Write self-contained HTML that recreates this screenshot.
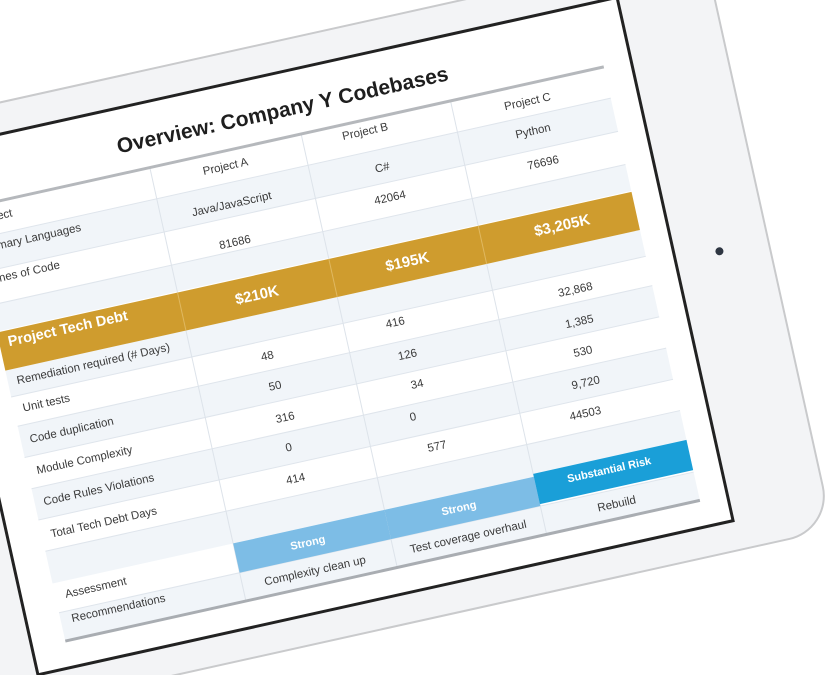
<!DOCTYPE html>
<html><head><meta charset="utf-8"><style>
html,body{margin:0;padding:0;background:#fff;width:826px;height:675px;overflow:hidden}
svg{display:block}
text{font-family:"Liberation Sans",sans-serif}
.v{font-size:11.5px;fill:#3a3a3a;text-anchor:middle;dominant-baseline:central}
.l{font-size:11.5px;fill:#3a3a3a;dominant-baseline:central}
.g{font-size:15px;font-weight:bold;fill:#fff;text-anchor:middle;dominant-baseline:central}
.b{font-size:11px;font-weight:bold;fill:#fff;text-anchor:middle;dominant-baseline:central}
</style></head><body>
<svg width="826" height="675" viewBox="0 0 826 675">
<g transform="rotate(-12.5)">
  <rect x="-260" y="100" width="958" height="597" rx="44" fill="#f3f4f6" stroke="#c9cacc" stroke-width="2"/>
  <circle cx="648" cy="401" r="4" fill="#2e3642"/>
  <rect x="-109" y="131" width="712" height="536" fill="#fff" stroke="#222" stroke-width="3"/>
  <g fill="#f1f5f9">
    <rect x="-75" y="228" width="650" height="34"/>
    <rect x="-75" y="296" width="650" height="27"/>
    <rect x="-75" y="363" width="650" height="27"/>
    <rect x="-75" y="420" width="650" height="32"/>
    <rect x="-75" y="484" width="650" height="32"/>
    <rect x="-75" y="548" width="650" height="33"/>
    <rect x="-75" y="611" width="650" height="29"/>
  </g>
  <g stroke="#dfe5ec" stroke-width="1">
    <line x1="-75" y1="228" x2="575" y2="228"/><line x1="-75" y1="262" x2="575" y2="262"/>
    <line x1="-75" y1="296" x2="575" y2="296"/><line x1="-75" y1="390" x2="575" y2="390"/>
    <line x1="-75" y1="420" x2="575" y2="420"/><line x1="-75" y1="452" x2="575" y2="452"/>
    <line x1="-75" y1="484" x2="575" y2="484"/><line x1="-75" y1="516" x2="575" y2="516"/>
    <line x1="-75" y1="548" x2="575" y2="548"/><line x1="-75" y1="611" x2="575" y2="611"/>
  </g>
  <g stroke="#dde3ea" stroke-width="1">
    <line x1="110" y1="196" x2="110" y2="640"/><line x1="265" y1="196" x2="265" y2="640"/><line x1="418" y1="196" x2="418" y2="640"/>
  </g>
  <line x1="-75" y1="196" x2="575" y2="196" stroke="#b5b8bc" stroke-width="3"/>
  <line x1="-75" y1="640" x2="575" y2="640" stroke="#a9adb2" stroke-width="3"/>
  <text x="252" y="169" font-size="21" font-weight="bold" fill="#1e1e1e" text-anchor="middle" dominant-baseline="central">Overview: Company Y Codebases</text>

  <rect x="-75" y="324" width="650" height="39" fill="#cf9c2e"/>
  <line x1="110" y1="324" x2="110" y2="363" stroke="#e0b860"/>
  <line x1="265" y1="324" x2="265" y2="363" stroke="#e0b860"/>
  <line x1="418" y1="324" x2="418" y2="363" stroke="#e0b860"/>

  <rect x="110" y="581" width="155" height="30" fill="#7dbde6"/>
  <rect x="265" y="581" width="153" height="30" fill="#7dbde6"/>
  <rect x="418" y="578" width="157" height="31" fill="#1a9fd8"/>

  <g>
    <text class="l" x="-70" y="211">Project</text>
    <text class="l" x="-70" y="240">Primary Languages</text>
    <text class="l" x="-70" y="272">Lines of Code</text>
    <text class="l" x="-66" y="336" style="font-size:14.5px;font-weight:bold;fill:#fff">Project Tech Debt</text>
    <text class="l" x="-66" y="376">Remediation required (# Days)</text>
    <text class="l" x="-66" y="404">Unit tests</text>
    <text class="l" x="-66" y="436">Code duplication</text>
    <text class="l" x="-66" y="468">Module Complexity</text>
    <text class="l" x="-66" y="500">Code Rules Violations</text>
    <text class="l" x="-66" y="533">Total Tech Debt Days</text>
    <text class="l" x="-65" y="595">Assessment</text>
    <text class="l" x="-64" y="620">Recommendations</text>
  </g>
  <g>
    <text class="v" x="184" y="212">Project A</text>
    <text class="v" x="182" y="250">Java/JavaScript</text>
    <text class="v" x="177" y="288">81686</text>
    <text class="g" x="187" y="344">$210K</text>
    <text class="v" x="184" y="406">48</text>
    <text class="v" x="185" y="437">50</text>
    <text class="v" x="188" y="470">316</text>
    <text class="v" x="185" y="500">0</text>
    <text class="v" x="185" y="532">414</text>
    <text class="b" x="183" y="597">Strong</text>
    <text class="v" x="184" y="626">Complexity clean up</text>
  </g>
  <g>
    <text class="v" x="328" y="208">Project B</text>
    <text class="v" x="337" y="247">C#</text>
    <text class="v" x="338" y="278">42064</text>
    <text class="g" x="341" y="344">$195K</text>
    <text class="v" x="316" y="401">416</text>
    <text class="v" x="321" y="435">126</text>
    <text class="v" x="324" y="466">34</text>
    <text class="v" x="313" y="497">0</text>
    <text class="v" x="330" y="531">577</text>
    <text class="b" x="338" y="596">Strong</text>
    <text class="v" x="341" y="626">Test coverage overhaul</text>
  </g>
  <g>
    <text class="v" x="493" y="214">Project C</text>
    <text class="v" x="492" y="244">Python</text>
    <text class="v" x="495" y="277">76696</text>
    <text class="g" x="500" y="342">$3,205K</text>
    <text class="v" x="499" y="408">32,868</text>
    <text class="v" x="496" y="440">1,385</text>
    <text class="v" x="493" y="470">530</text>
    <text class="v" x="489" y="501">9,720</text>
    <text class="v" x="482" y="531">44503</text>
    <text class="b" x="493" y="591">Substantial Risk</text>
    <text class="v" x="493" y="626">Rebuild</text>
  </g>
</g>
</svg>
</body></html>
